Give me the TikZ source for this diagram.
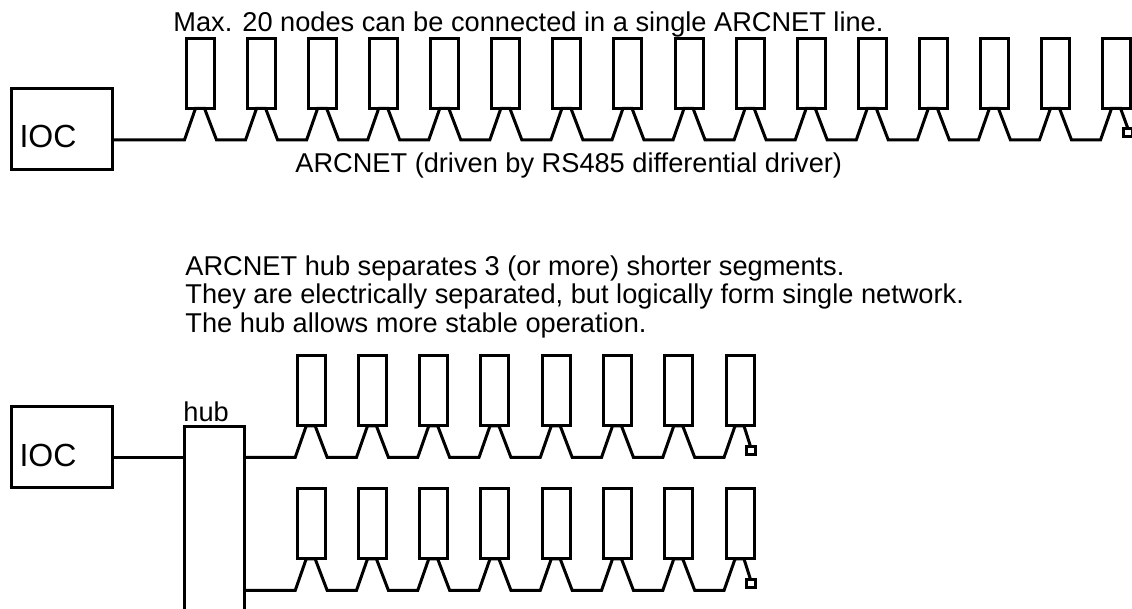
\documentclass[tikz,border=0pt]{standalone}
\usepackage{fontspec}
\setmainfont{Liberation Sans}
\usepackage{tikz}
\usetikzlibrary{positioning}
\tikzstyle{iocbox} = [
rectangle,
draw=black,
line width=1.5pt,
outer sep=0pt,
minimum width=50.5pt,
minimum height=40.5pt,
text width=42.5pt,
inner xsep=4pt,
text height=19pt,
align=left,
font=\fontsize{16}{16}\selectfont
]
\tikzstyle{devbox} = [
rectangle,
draw=black,
line width=1.5pt,
outer sep=0pt,
inner sep=0pt,
minimum width=14pt,
minimum height=35pt
]
\tikzstyle{hubbox} = [
rectangle,
draw=black,
line width=1.5pt,
outer sep=0pt,
inner sep=0pt,
minimum width=30pt,
minimum height=120pt
]
\tikzstyle{termbox} = [
rectangle,
draw=black,
line width=1.5pt,
outer sep=0pt,
inner sep=0pt,
minimum width=4.5pt,
minimum height=4pt
]
\tikzstyle{caption} = [
inner sep=0pt,
anchor=base west,
font=\fontsize{13.6}{14.35}\selectfont
]
\tikzstyle{wire} = [
line width=1.5pt,
draw=black
]

\begin{document}
\begin{tikzpicture}[x=0.5pt, y=-0.5pt]
			
			\clip (0,0) rectangle (1132,609);
			
			% single ARCNET line
			\node (ioc1) [iocbox] at (62,129) {IOC};
			
			\node (txt1) [caption] at (173,32) {Max. 20 nodes can be connected in a single ARCNET line.};
			
			\node (txt2) [caption] at (295,173) {ARCNET (driven by RS485 differential driver)};
			
			\foreach \i in {1,...,16} {
				\node (t\i) [devbox] at ({200.5+61.07*(\i-1)},73.4) {};
				\coordinate (tl\i) at ([xshift=-8pt,yshift=-15.75pt]t\i.south);
				\coordinate (tr\i) at ([xshift=8pt,yshift=-15.75pt]t\i.south);
			}
			
			\node (term1) [termbox] at ([xshift=5.75pt,yshift=-12.25pt]t16.south) {};
			
			\draw [wire] (ioc1.east |- tl1)
				\foreach \i in {1,...,15} { -- (tl\i) -- ([xshift=-2.5pt]t\i.south) -- ([xshift=2pt]t\i.south) -- (tr\i) }
				-- (tl16) -- ([xshift=-2.5pt]t16.south) -- ([xshift=2pt]t16.south) -- (term1.north);
			
			% hub with segments
			\node (txt3) [caption, align=left] at (185,332.7) {ARCNET hub separates 3 (or more) shorter segments.\\They are electrically separated, but logically form single network.\\The hub allows more stable operation.};
			
			\node (ioc2) [iocbox] at (62,447.5) {IOC};
			
			\node (hub) [hubbox] at (214.5,547) {};
			
			\node (hublbl) [caption] at (183,422) {hub};
			
			\foreach \i in {1,...,8} {
				\node (a\i) [devbox] at ({311.2+61.26*(\i-1)},391) {};
				\coordinate (al\i) at ([xshift=-8pt,yshift=-15.75pt]a\i.south);
				\coordinate (ar\i) at ([xshift=8pt,yshift=-15.75pt]a\i.south);
				\node (b\i) [devbox] at ({311.2+61.26*(\i-1)},524) {};
				\coordinate (bl\i) at ([xshift=-8pt,yshift=-15.75pt]b\i.south);
				\coordinate (br\i) at ([xshift=8pt,yshift=-15.75pt]b\i.south);
			}
			
			\node (term2) [termbox] at ([xshift=5.25pt,yshift=-12.25pt]a8.south) {};
			\node (term3) [termbox] at ([xshift=5.25pt,yshift=-12.25pt]b8.south) {};
			
			\draw [wire] (ioc2.east |- al1) -- (hub.west |- al1);
			
			\draw [wire] (hub.east |- al1)
				\foreach \i in {1,...,7} { -- (al\i) -- ([xshift=-2.5pt]a\i.south) -- ([xshift=2pt]a\i.south) -- (ar\i) }
				-- (al8) -- ([xshift=-2.5pt]a8.south) -- ([xshift=2pt]a8.south) -- (term2.north);
			
			\draw [wire] (hub.east |- bl1)
				\foreach \i in {1,...,7} { -- (bl\i) -- ([xshift=-2.5pt]b\i.south) -- ([xshift=2pt]b\i.south) -- (br\i) }
				-- (bl8) -- ([xshift=-2.5pt]b8.south) -- ([xshift=2pt]b8.south) -- (term3.north);
			
		\end{tikzpicture}
\end{document}
